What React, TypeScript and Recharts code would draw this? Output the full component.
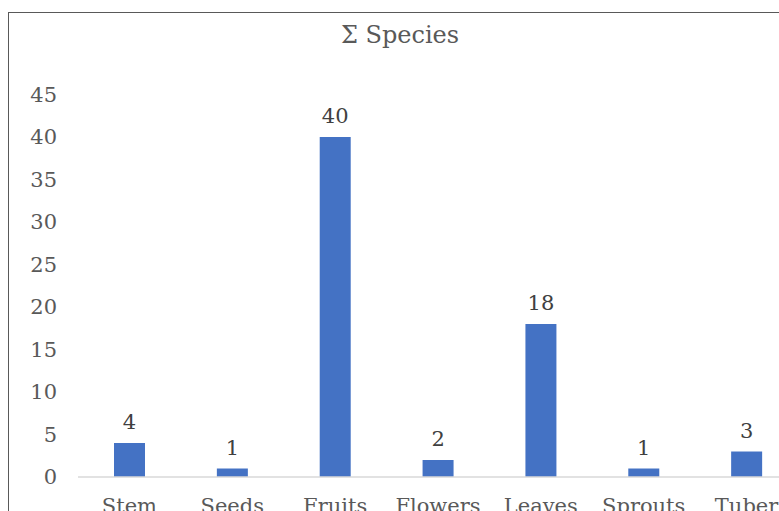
import { Bar, BarChart, LabelList, XAxis, YAxis } from "recharts";

const categories = ["Stem", "Seeds", "Fruits", "Flowers", "Leaves", "Sprouts", "Tuber"];
const speciesCounts = [4, 1, 40, 2, 18, 1, 3];
const yTicks = [0, 5, 10, 15, 20, 25, 30, 35, 40, 45];

const data = categories.map((name, i) => ({ name, count: speciesCounts[i] }));

const FONT = '"DejaVu Serif", serif';

export default function App() {
  return (
    <div style={{ position: "fixed", left: 0, top: 0, width: 779, height: 511, overflow: "hidden", background: "#fff" }}>
      <div
        style={{
          position: "absolute",
          left: 8,
          top: 12,
          width: 900,
          height: 560,
          borderTop: "1px solid #595959",
          borderLeft: "1px solid #595959",
        }}
      >
        <div
          style={{
            position: "absolute",
            left: 0,
            width: 782,
            top: 8,
            textAlign: "center",
            fontFamily: FONT,
            fontSize: 24,
            color: "#595959",
          }}
        >
          Σ Species
        </div>
        <BarChart
          width={860}
          height={560}
          data={data}
          barCategoryGap="35%"
          margin={{ top: 81.5, right: 71, left: 0, bottom: 56 }}
        >
          <XAxis
            dataKey="name"
            interval={0}
            axisLine={{ stroke: "#D9D9D9", strokeWidth: 1.5 }}
            tickLine={false}
            tickMargin={15}
            height={40}
            tick={{ fontFamily: FONT, fontSize: 21, fill: "#595959" }}
          />
          <YAxis
            domain={[0, 45]}
            ticks={yTicks}
            interval={0}
            width={69}
            axisLine={false}
            tickLine={false}
            tickSize={0}
            tickMargin={21}
            tick={{ fontFamily: FONT, fontSize: 21, fill: "#595959" }}
          />
          <Bar dataKey="count" fill="#4472C4" isAnimationActive={false}>
            <LabelList
              dataKey="count"
              position="top"
              offset={14}
              fontFamily={FONT}
              fontSize={21}
              fill="#404040"
            />
          </Bar>
        </BarChart>
      </div>
    </div>
  );
}
